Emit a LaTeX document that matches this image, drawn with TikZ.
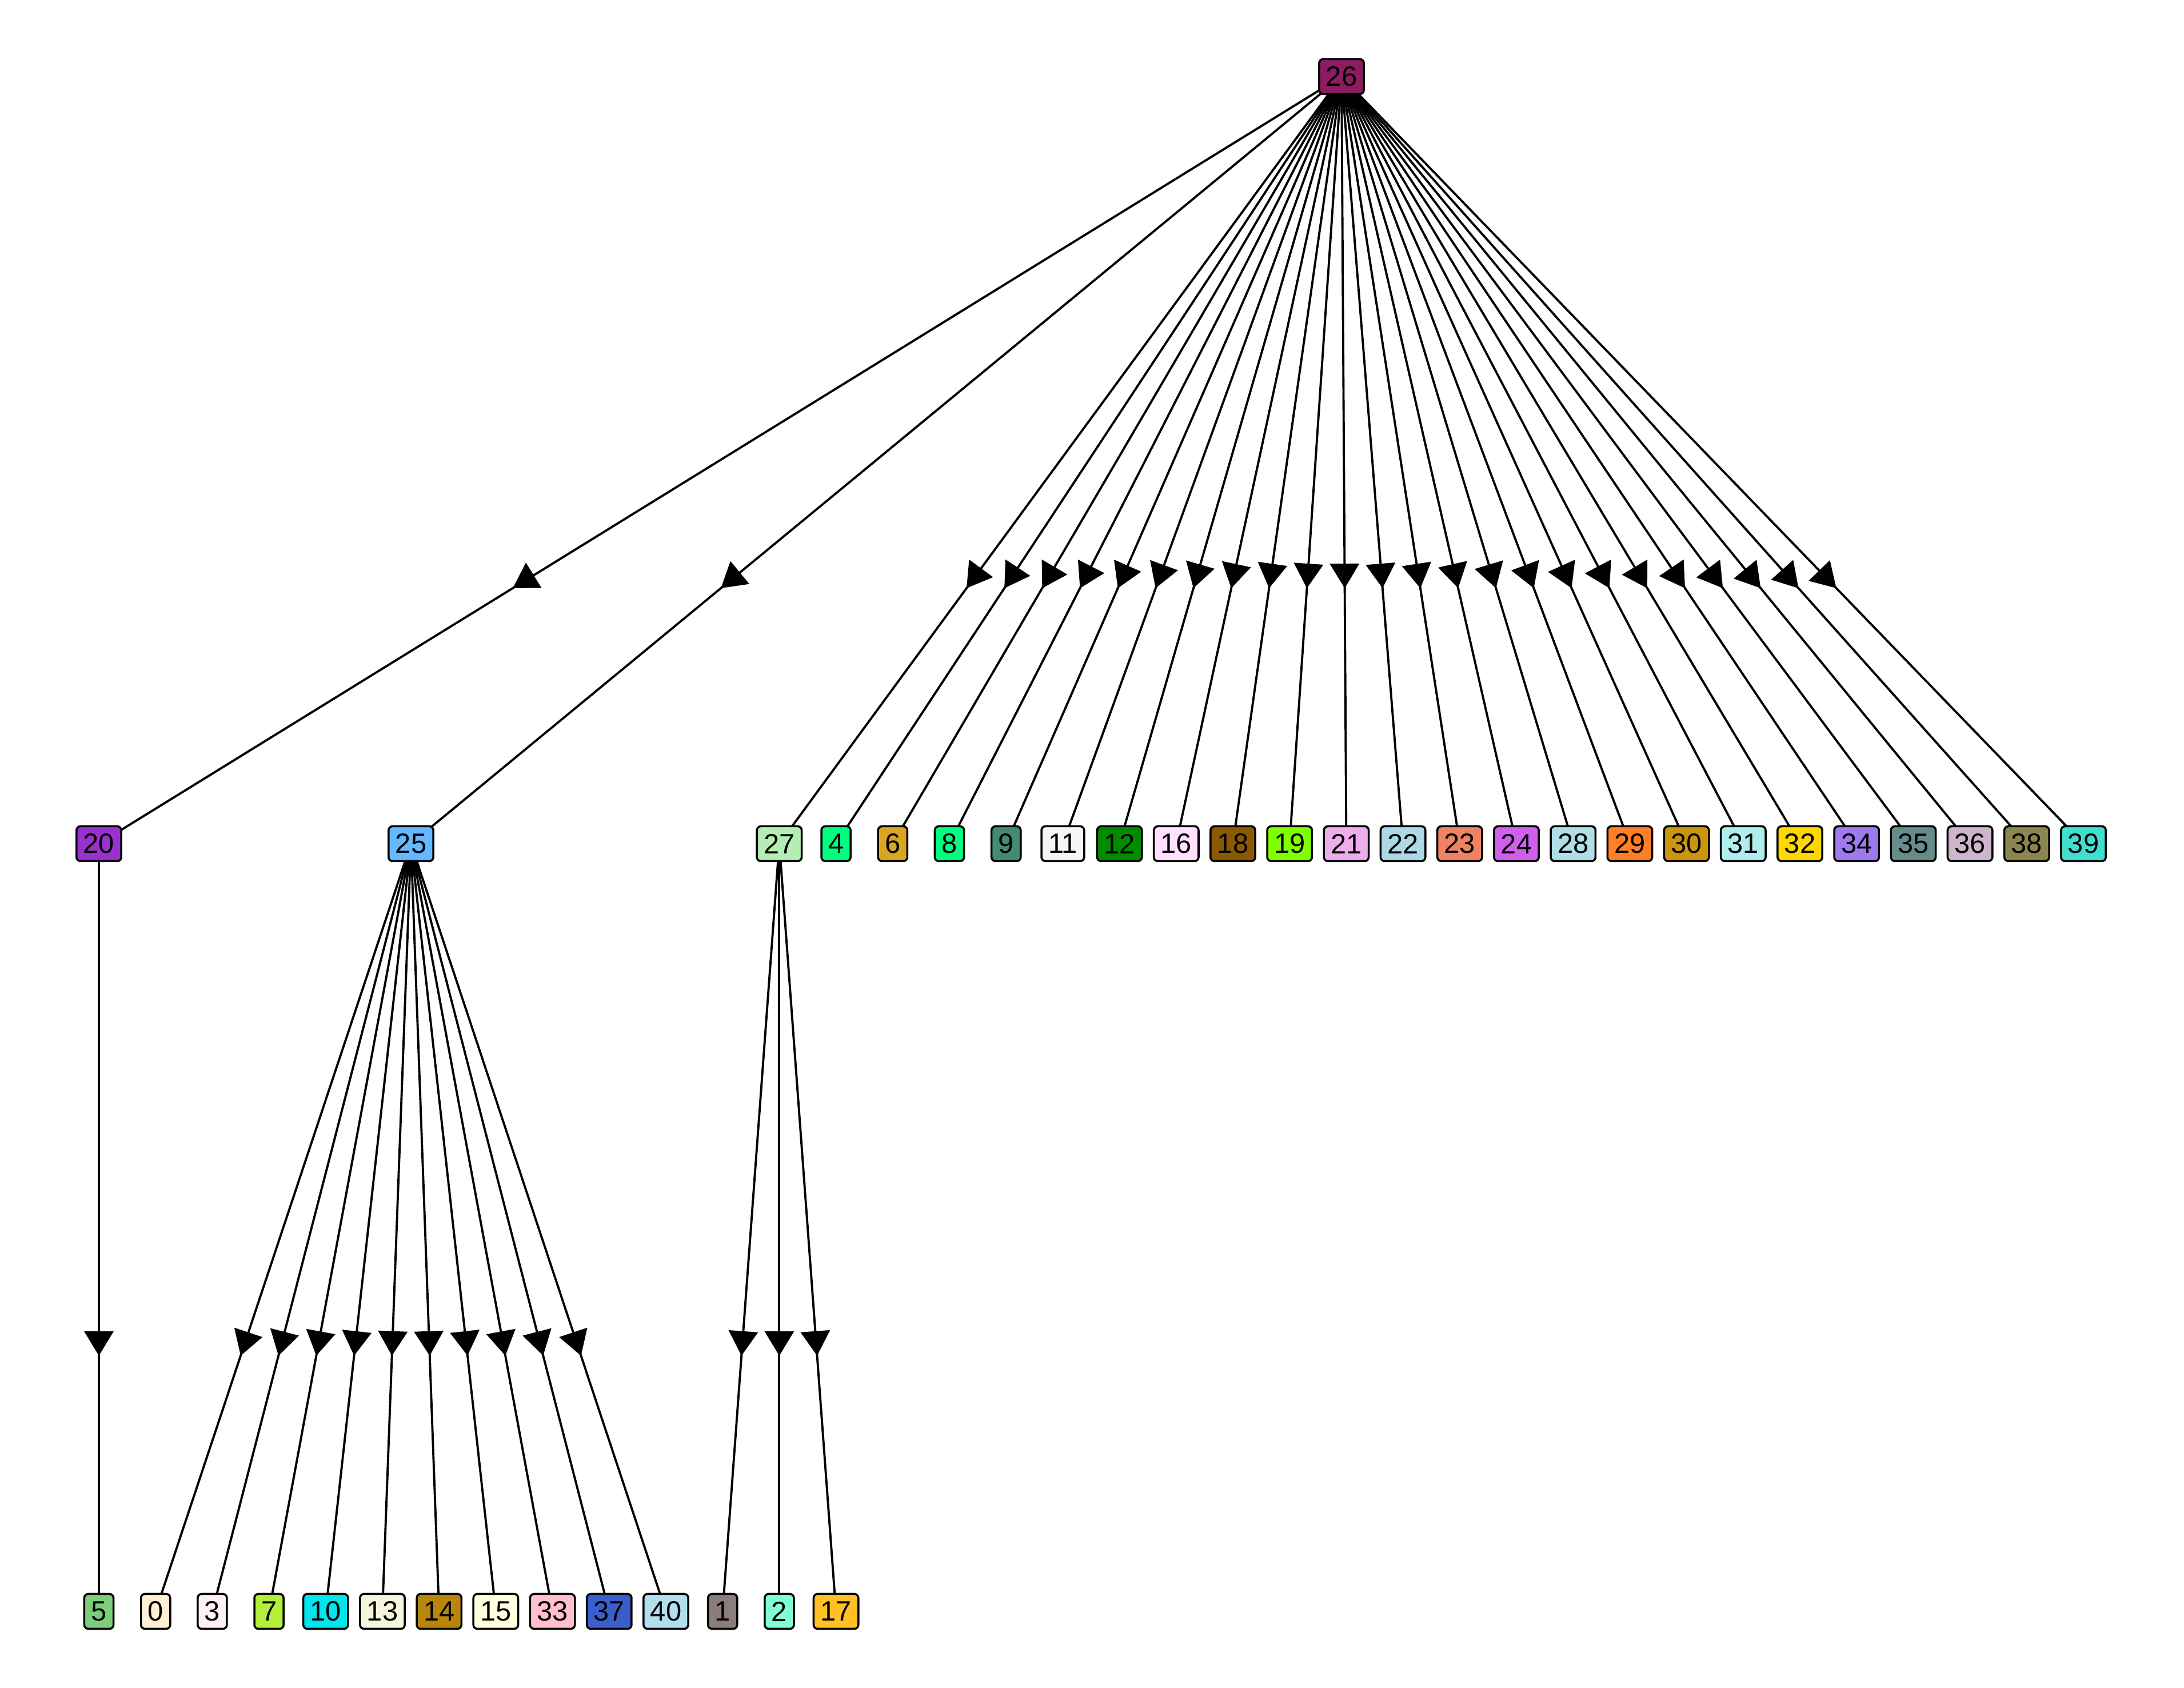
\documentclass[tikz,border=0pt]{standalone}
\usepackage{fontspec}
\setmainfont{Liberation Sans}
\usetikzlibrary{arrows.meta,positioning,calc,backgrounds,decorations.markings}
\definecolor{k0}{HTML}{FFEFD5}
\definecolor{k1}{HTML}{8B7D7B}
\definecolor{k2}{HTML}{7FFFD4}
\definecolor{k3}{HTML}{FFF0F5}
\definecolor{k4}{HTML}{00FF7F}
\definecolor{k5}{HTML}{7CCD7C}
\definecolor{k6}{HTML}{DAA520}
\definecolor{k7}{HTML}{B3EE3A}
\definecolor{k8}{HTML}{00FF7F}
\definecolor{k9}{HTML}{458B74}
\definecolor{k10}{HTML}{00E5EE}
\definecolor{k11}{HTML}{F5F5F5}
\definecolor{k12}{HTML}{008B00}
\definecolor{k13}{HTML}{F5F5DC}
\definecolor{k14}{HTML}{B8860B}
\definecolor{k15}{HTML}{FFFFE0}
\definecolor{k16}{HTML}{FFE1FF}
\definecolor{k17}{HTML}{FFC125}
\definecolor{k18}{HTML}{8B5A00}
\definecolor{k19}{HTML}{7FFF00}
\definecolor{k20}{HTML}{9932CC}
\definecolor{k21}{HTML}{EEAEEE}
\definecolor{k22}{HTML}{ADD8E6}
\definecolor{k23}{HTML}{EE8262}
\definecolor{k24}{HTML}{D15FEE}
\definecolor{k25}{HTML}{63B8FF}
\definecolor{k26}{HTML}{8B1C62}
\definecolor{k27}{HTML}{B4EEB4}
\definecolor{k28}{HTML}{B0E0E6}
\definecolor{k29}{HTML}{FF7F24}
\definecolor{k30}{HTML}{CD950C}
\definecolor{k31}{HTML}{AEEEEE}
\definecolor{k32}{HTML}{FFD700}
\definecolor{k33}{HTML}{FFC0CB}
\definecolor{k34}{HTML}{9F79EE}
\definecolor{k35}{HTML}{668B8B}
\definecolor{k36}{HTML}{CDB5CD}
\definecolor{k37}{HTML}{3A5FCD}
\definecolor{k38}{HTML}{8B864E}
\definecolor{k39}{HTML}{40E0D0}
\definecolor{k40}{HTML}{B2DFEE}
\tikzset{
  vtx/.style={draw=black, line width=1pt, rounded corners=2pt, minimum height=0.61cm,
              inner xsep=0.12cm, inner ysep=0pt, font=\fontsize{13.9}{16}\selectfont},
  tedge/.style={black, line width=1.1pt, postaction={decorate, decoration={markings,
      mark=at position 0.667 with {\arrow{Triangle[length=4.3mm, width=5.1mm]}}}}},
}
\begin{document}
\begin{tikzpicture}
   \useasboundingbox (0,0) rectangle (38.21,29.53);
   \node[vtx, fill=k26] (n26) at (23.47,28.19) {26};
   \node[vtx, fill=k20] (n20) at (1.73,14.77) {20};
   \node[vtx, fill=k25] (n25) at (7.19,14.77) {25};
   \foreach \lbl [count=\i from 12] in {27,4,6,8,9,11,12,16,18,19,21,22,23,24,28,29,30,31,32,34,35,36,38,39}
     \node[vtx, fill=k\lbl] (n\lbl) at ({1.73+\i*0.992},14.77) {\lbl};
   \foreach \lbl [count=\i from 0] in {5,0,3,7,10,13,14,15,33,37,40,1,2,17}
     \node[vtx, fill=k\lbl] (n\lbl) at ({1.73+\i*0.992},1.34) {\lbl};
   \begin{scope}[on background layer]
     \foreach \kid in {20,25,27,4,6,8,9,11,12,16,18,19,21,22,23,24,28,29,30,31,32,34,35,36,38,39}
       \draw[tedge] (n26.center) -- (n\kid.center);
     \draw[tedge] (n20.center) -- (n5.center);
     \foreach \kid in {0,3,7,10,13,14,15,33,37,40}
       \draw[tedge] (n25.center) -- (n\kid.center);
     \foreach \kid in {1,2,17}
       \draw[tedge] (n27.center) -- (n\kid.center);
   \end{scope}
  \end{tikzpicture}
\end{document}
